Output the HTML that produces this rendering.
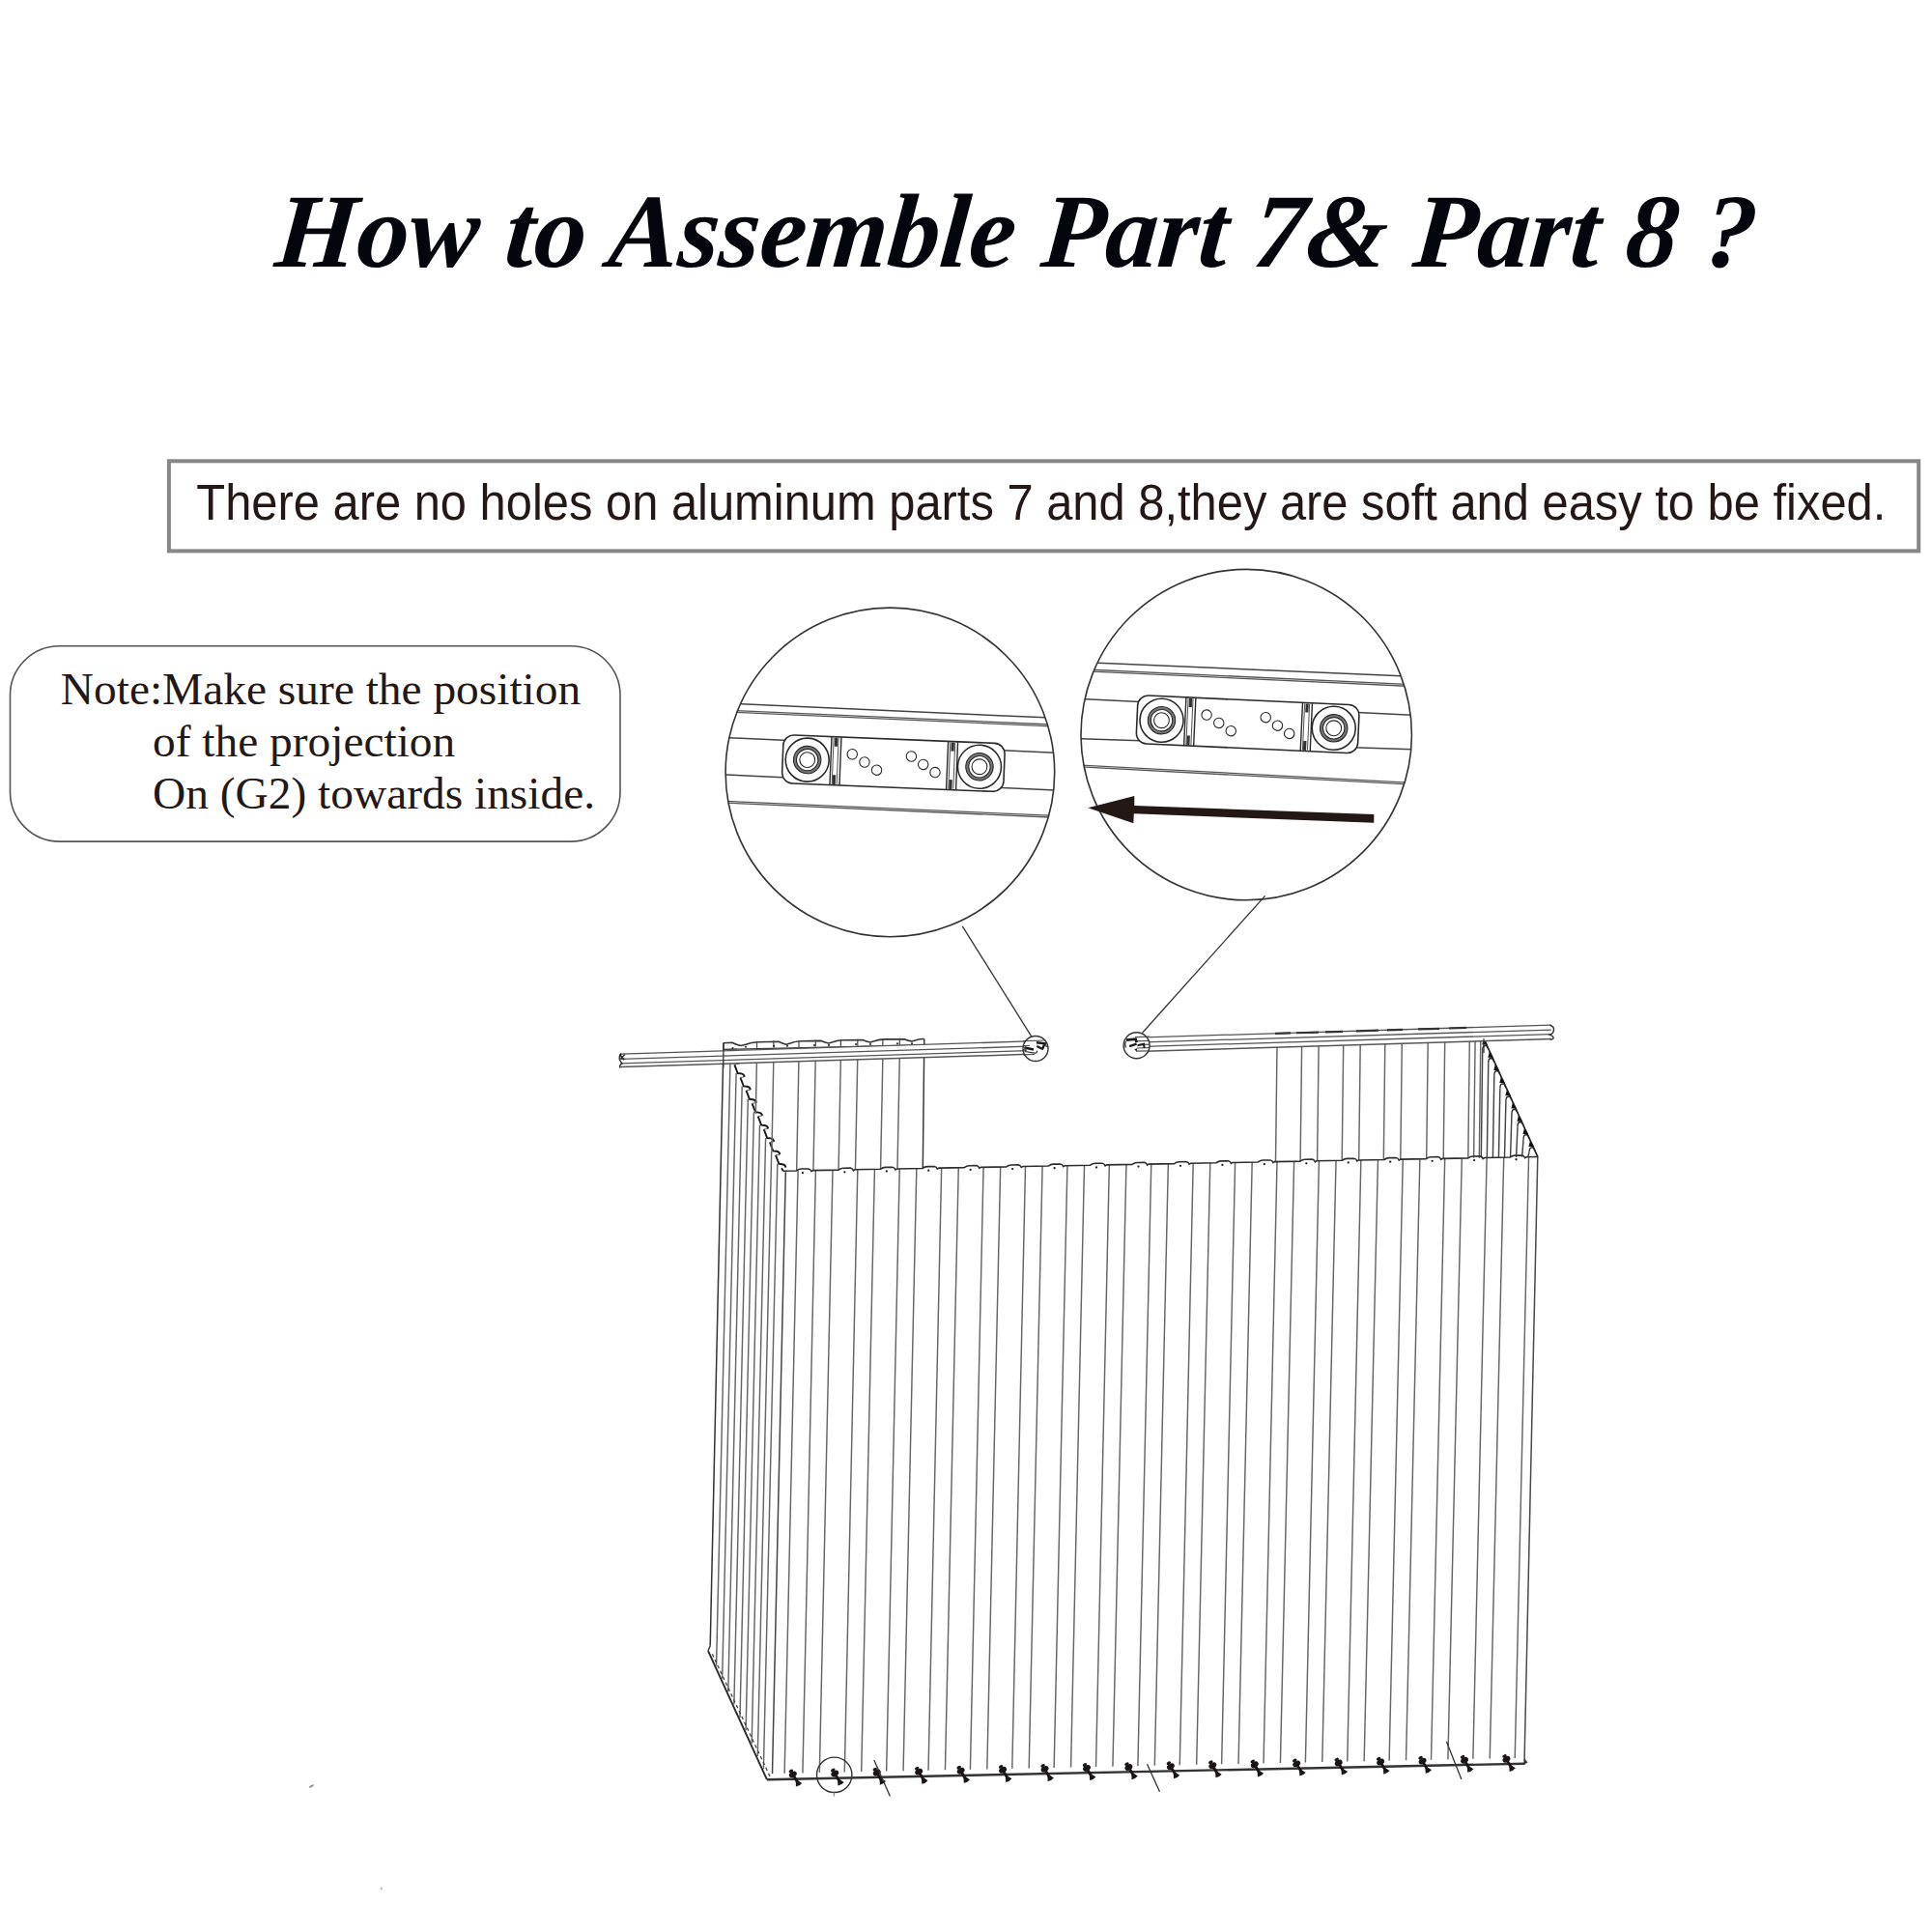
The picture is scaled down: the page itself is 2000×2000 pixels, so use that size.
<!DOCTYPE html>
<html><head><meta charset="utf-8">
<style>
html,body{margin:0;padding:0;background:#fff;}
body{width:2000px;height:2000px;overflow:hidden;position:relative;}
svg{position:absolute;left:0;top:0;}
</style></head>
<body>
<svg width="2000" height="2000" viewBox="0 0 2000 2000">
<text x="283" y="275.8" transform="translate(0 275.8) skewX(-5) translate(0 -275.8)" font-family="Liberation Serif" font-weight="bold" font-style="italic" font-size="108.7" fill="#05050e" textLength="1533" lengthAdjust="spacingAndGlyphs">How to Assemble Part 7&amp; Part 8 ?</text>
<rect x="174.9" y="477.3" width="1811.3" height="93.1" fill="none" stroke="#878787" stroke-width="4"/>
<text x="203.3" y="538.1" font-family="Liberation Sans" font-size="51" fill="#231815" textLength="1749" lengthAdjust="spacingAndGlyphs">There are no holes on aluminum parts 7 and 8,they are soft and easy to be fixed.</text>
<rect x="10.5" y="668.8" width="631.5" height="202.3" rx="51" ry="51" fill="none" stroke="#555" stroke-width="1.6"/>
<g font-family="Liberation Serif" font-size="47.4" fill="#231815">
<text x="62.8" y="728.6">Note:Make sure the position</text>
<text x="158" y="782.7">of the projection</text>
<text x="158" y="836.5">On (G2) towards inside.</text>
</g>
<defs><clipPath id="cl"><circle cx="921.4" cy="799.4" r="170.3"/></clipPath><clipPath id="cr"><circle cx="1290.2" cy="760.6" r="171.2"/></clipPath></defs>
<g clip-path="url(#cl)" stroke-linecap="butt">
<line x1="740" y1="727.63" x2="1100" y2="743.64" stroke="#444" stroke-width="1.5"/>
<line x1="740" y1="734.55" x2="1100" y2="750.55" stroke="#555" stroke-width="1.3"/>
<line x1="740" y1="736.35" x2="1100" y2="752.35" stroke="#555" stroke-width="1.3"/>
<line x1="740" y1="763.08" x2="1100" y2="779.64" stroke="#444" stroke-width="1.5"/>
<line x1="740" y1="801.44" x2="1100" y2="818.45" stroke="#444" stroke-width="1.5"/>
<line x1="740" y1="828.85" x2="1100" y2="844.82" stroke="#555" stroke-width="1.3"/>
<line x1="740" y1="830.65" x2="1100" y2="846.62" stroke="#555" stroke-width="1.3"/>
<g transform="translate(835.7 786.6) rotate(2.3)" stroke="#2a2a2a" fill="none">
<rect x="-25.5" y="-25" width="229.5" height="50" rx="11" ry="11" fill="#fff" stroke-width="1.6"/>
<line x1="24.3" y1="-25" x2="24.3" y2="25" stroke-width="1.4"/>
<line x1="34.3" y1="-25" x2="34.3" y2="25" stroke-width="1.4"/>
<line x1="26.5" y1="-24" x2="26.5" y2="24" stroke-width="0.8"/>
<line x1="31.5" y1="-24" x2="31.5" y2="24" stroke-width="0.8"/>
<rect x="27.5" y="-24" width="3.2" height="9" fill="#333" stroke="none"/>
<rect x="26.9" y="14.5" width="3.2" height="10" fill="#333" stroke="none"/>
<line x1="145" y1="-25" x2="145" y2="25" stroke-width="1.4"/>
<line x1="155" y1="-25" x2="155" y2="25" stroke-width="1.4"/>
<line x1="147.2" y1="-24" x2="147.2" y2="24" stroke-width="0.8"/>
<line x1="152.2" y1="-24" x2="152.2" y2="24" stroke-width="0.8"/>
<rect x="148.2" y="-24" width="3.2" height="9" fill="#333" stroke="none"/>
<rect x="147.6" y="14.5" width="3.2" height="10" fill="#333" stroke="none"/>
<circle cx="0" cy="0" r="22.5" stroke-width="1.6"/>
<circle cx="0" cy="0" r="12.7" stroke-width="3.2" stroke="#777"/>
<circle cx="0" cy="0" r="14.2" stroke-width="1.1"/>
<circle cx="0" cy="0" r="11.2" stroke-width="1.1"/>
<circle cx="0" cy="0" r="7.9" stroke-width="1.1"/>
<circle cx="178.4" cy="0" r="22.5" stroke-width="1.6"/>
<circle cx="178.4" cy="0" r="12.7" stroke-width="3.2" stroke="#777"/>
<circle cx="178.4" cy="0" r="14.2" stroke-width="1.1"/>
<circle cx="178.4" cy="0" r="11.2" stroke-width="1.1"/>
<circle cx="178.4" cy="0" r="7.9" stroke-width="1.1"/>
<circle cx="46.3" cy="-7.7" r="5.2" stroke-width="1.1"/>
<circle cx="59.3" cy="0" r="5.2" stroke-width="1.1"/>
<circle cx="72.2" cy="7.7" r="5.2" stroke-width="1.1"/>
<circle cx="107.5" cy="-7.9" r="5.2" stroke-width="1.1"/>
<circle cx="120.1" cy="0" r="5.2" stroke-width="1.1"/>
<circle cx="132.7" cy="7.7" r="5.2" stroke-width="1.1"/>
</g>
</g>
<circle cx="921.4" cy="799.4" r="170.3" fill="none" stroke="#333" stroke-width="1.6"/>
<g clip-path="url(#cr)" stroke-linecap="butt">
<line x1="1110" y1="685.07" x2="1470" y2="700.7" stroke="#444" stroke-width="1.5"/>
<line x1="1110" y1="692.34" x2="1470" y2="709.05" stroke="#555" stroke-width="1.3"/>
<line x1="1110" y1="694.14" x2="1470" y2="710.85" stroke="#555" stroke-width="1.3"/>
<line x1="1110" y1="723.08" x2="1470" y2="740.72" stroke="#444" stroke-width="1.5"/>
<line x1="1110" y1="764.48" x2="1470" y2="775.97" stroke="#444" stroke-width="1.5"/>
<line x1="1110" y1="791.62" x2="1470" y2="810.7" stroke="#555" stroke-width="1.3"/>
<line x1="1110" y1="793.42" x2="1470" y2="812.5" stroke="#555" stroke-width="1.3"/>
<g transform="translate(1202.5 745.7) rotate(2.6)" stroke="#2a2a2a" fill="none">
<rect x="-25.5" y="-25" width="229.5" height="50" rx="11" ry="11" fill="#fff" stroke-width="1.6"/>
<line x1="24.3" y1="-25" x2="24.3" y2="25" stroke-width="1.4"/>
<line x1="34.3" y1="-25" x2="34.3" y2="25" stroke-width="1.4"/>
<line x1="26.5" y1="-24" x2="26.5" y2="24" stroke-width="0.8"/>
<line x1="31.5" y1="-24" x2="31.5" y2="24" stroke-width="0.8"/>
<rect x="27.5" y="-24" width="3.2" height="9" fill="#333" stroke="none"/>
<rect x="26.9" y="14.5" width="3.2" height="10" fill="#333" stroke="none"/>
<line x1="145" y1="-25" x2="145" y2="25" stroke-width="1.4"/>
<line x1="155" y1="-25" x2="155" y2="25" stroke-width="1.4"/>
<line x1="147.2" y1="-24" x2="147.2" y2="24" stroke-width="0.8"/>
<line x1="152.2" y1="-24" x2="152.2" y2="24" stroke-width="0.8"/>
<rect x="148.2" y="-24" width="3.2" height="9" fill="#333" stroke="none"/>
<rect x="147.6" y="14.5" width="3.2" height="10" fill="#333" stroke="none"/>
<circle cx="0" cy="0" r="22.5" stroke-width="1.6"/>
<circle cx="0" cy="0" r="12.7" stroke-width="3.2" stroke="#777"/>
<circle cx="0" cy="0" r="14.2" stroke-width="1.1"/>
<circle cx="0" cy="0" r="11.2" stroke-width="1.1"/>
<circle cx="0" cy="0" r="7.9" stroke-width="1.1"/>
<circle cx="178.4" cy="0" r="22.5" stroke-width="1.6"/>
<circle cx="178.4" cy="0" r="12.7" stroke-width="3.2" stroke="#777"/>
<circle cx="178.4" cy="0" r="14.2" stroke-width="1.1"/>
<circle cx="178.4" cy="0" r="11.2" stroke-width="1.1"/>
<circle cx="178.4" cy="0" r="7.9" stroke-width="1.1"/>
<circle cx="46.3" cy="-7.7" r="5.2" stroke-width="1.1"/>
<circle cx="59.3" cy="0" r="5.2" stroke-width="1.1"/>
<circle cx="72.2" cy="7.7" r="5.2" stroke-width="1.1"/>
<circle cx="107.5" cy="-7.9" r="5.2" stroke-width="1.1"/>
<circle cx="120.1" cy="0" r="5.2" stroke-width="1.1"/>
<circle cx="132.7" cy="7.7" r="5.2" stroke-width="1.1"/>
</g>
</g>
<circle cx="1290.2" cy="760.6" r="171.2" fill="none" stroke="#333" stroke-width="1.6"/>
<path d="M1126.3 836.2 L1174.3 824.1 L1174.3 834 L1422.3 843.1 L1422.3 851.7 L1173.8 842.3 L1173.3 852.2 Z" fill="#231815" stroke="none"/>
<line x1="996.3" y1="958.8" x2="1067.7" y2="1072.8" stroke="#333" stroke-width="1.3"/>
<line x1="1309.6" y1="927.4" x2="1182.7" y2="1069" stroke="#333" stroke-width="1.3"/>
<g fill="none" stroke-linecap="butt">
<line x1="844.4" y1="1211.57" x2="830.93" y2="1835.42" stroke="#666" stroke-width="1.45"/>
<line x1="887.82" y1="1210.75" x2="874.3" y2="1834.51" stroke="#666" stroke-width="1.45"/>
<line x1="931.24" y1="1209.93" x2="917.67" y2="1833.6" stroke="#666" stroke-width="1.45"/>
<line x1="974.66" y1="1209.12" x2="961.04" y2="1832.68" stroke="#666" stroke-width="1.45"/>
<line x1="1018.08" y1="1208.3" x2="1004.41" y2="1831.77" stroke="#666" stroke-width="1.45"/>
<line x1="1061.5" y1="1207.48" x2="1047.78" y2="1830.86" stroke="#666" stroke-width="1.45"/>
<line x1="1104.92" y1="1206.66" x2="1091.15" y2="1829.94" stroke="#666" stroke-width="1.45"/>
<line x1="1148.34" y1="1205.85" x2="1134.52" y2="1829.03" stroke="#666" stroke-width="1.45"/>
<line x1="1191.76" y1="1205.03" x2="1177.89" y2="1828.12" stroke="#666" stroke-width="1.45"/>
<line x1="1235.18" y1="1204.21" x2="1221.26" y2="1827.2" stroke="#666" stroke-width="1.45"/>
<line x1="1278.6" y1="1203.4" x2="1264.63" y2="1826.29" stroke="#666" stroke-width="1.45"/>
<line x1="1322.02" y1="1202.58" x2="1308.01" y2="1825.38" stroke="#666" stroke-width="1.45"/>
<line x1="1365.44" y1="1201.76" x2="1351.38" y2="1824.46" stroke="#666" stroke-width="1.45"/>
<line x1="1408.86" y1="1200.94" x2="1394.75" y2="1823.55" stroke="#666" stroke-width="1.45"/>
<line x1="1452.28" y1="1200.13" x2="1438.12" y2="1822.64" stroke="#666" stroke-width="1.45"/>
<line x1="1495.7" y1="1199.31" x2="1481.49" y2="1821.72" stroke="#666" stroke-width="1.45"/>
<line x1="1539.12" y1="1198.49" x2="1524.86" y2="1820.81" stroke="#666" stroke-width="1.45"/>
<line x1="1582.54" y1="1197.67" x2="1568.23" y2="1819.9" stroke="#666" stroke-width="1.45"/>
<line x1="862" y1="1211.24" x2="848.33" y2="1835.06" stroke="#666" stroke-width="1.45"/>
<line x1="905.42" y1="1210.42" x2="891.7" y2="1834.14" stroke="#666" stroke-width="1.45"/>
<line x1="948.84" y1="1209.6" x2="935.07" y2="1833.23" stroke="#666" stroke-width="1.45"/>
<line x1="992.26" y1="1208.78" x2="978.44" y2="1832.32" stroke="#666" stroke-width="1.45"/>
<line x1="1035.68" y1="1207.97" x2="1021.81" y2="1831.4" stroke="#666" stroke-width="1.45"/>
<line x1="1079.1" y1="1207.15" x2="1065.18" y2="1830.49" stroke="#666" stroke-width="1.45"/>
<line x1="1122.52" y1="1206.33" x2="1108.55" y2="1829.58" stroke="#666" stroke-width="1.45"/>
<line x1="1165.94" y1="1205.52" x2="1151.92" y2="1828.66" stroke="#666" stroke-width="1.45"/>
<line x1="1209.36" y1="1204.7" x2="1195.3" y2="1827.75" stroke="#666" stroke-width="1.45"/>
<line x1="1252.78" y1="1203.88" x2="1238.67" y2="1826.84" stroke="#666" stroke-width="1.45"/>
<line x1="1296.2" y1="1203.06" x2="1282.04" y2="1825.92" stroke="#666" stroke-width="1.45"/>
<line x1="1339.62" y1="1202.25" x2="1325.41" y2="1825.01" stroke="#666" stroke-width="1.45"/>
<line x1="1383.04" y1="1201.43" x2="1368.78" y2="1824.1" stroke="#666" stroke-width="1.45"/>
<line x1="1426.46" y1="1200.61" x2="1412.15" y2="1823.18" stroke="#666" stroke-width="1.45"/>
<line x1="1469.88" y1="1199.79" x2="1455.52" y2="1822.27" stroke="#666" stroke-width="1.45"/>
<line x1="1513.3" y1="1198.98" x2="1498.89" y2="1821.36" stroke="#666" stroke-width="1.45"/>
<line x1="1556.72" y1="1198.16" x2="1542.26" y2="1820.44" stroke="#666" stroke-width="1.45"/>
<line x1="826.1" y1="1211.91" x2="812.13" y2="1835.82" stroke="#666" stroke-width="1.45"/>
<line x1="813.3" y1="1213.2" x2="799.5" y2="1836" stroke="#444" stroke-width="1.5"/>
<line x1="1591.8" y1="1197.5" x2="1578" y2="1825.7" stroke="#4a4a4a" stroke-width="1.5"/>
<line x1="756" y1="1097.6" x2="741.58" y2="1724.45" stroke="#666" stroke-width="1.45"/>
<line x1="762.1" y1="1111" x2="747.68" y2="1737.81" stroke="#666" stroke-width="1.45"/>
<line x1="768.2" y1="1124.4" x2="753.78" y2="1751.18" stroke="#666" stroke-width="1.45"/>
<line x1="774.3" y1="1137.8" x2="759.88" y2="1764.54" stroke="#666" stroke-width="1.45"/>
<line x1="780.4" y1="1151.2" x2="765.99" y2="1777.9" stroke="#666" stroke-width="1.45"/>
<line x1="786.5" y1="1164.6" x2="772.09" y2="1791.27" stroke="#666" stroke-width="1.45"/>
<line x1="792.6" y1="1178" x2="778.19" y2="1804.63" stroke="#666" stroke-width="1.45"/>
<line x1="798.7" y1="1191.4" x2="784.29" y2="1817.99" stroke="#666" stroke-width="1.45"/>
<line x1="804.8" y1="1204.8" x2="790.39" y2="1831.36" stroke="#666" stroke-width="1.45"/>
<line x1="749" y1="1079.7" x2="735.2" y2="1703.8" stroke="#333" stroke-width="1.5"/>
<line x1="735.2" y1="1703.8" x2="733" y2="1708.8" stroke="#333" stroke-width="1.5"/>
<line x1="733" y1="1708.8" x2="793.9" y2="1842.2" stroke="#2a2a2a" stroke-width="1.9"/>
<line x1="737.3" y1="1712.2" x2="797.2" y2="1839.3" stroke="#444" stroke-width="1.3" stroke-dasharray="3.5 3"/>
<path d="M754.2 1088.7 L757.6 1097.6 L761.1 1098 Q764.2 1098.3 764.6 1101.4 M760.3 1102.1 L763.7 1111 L767.2 1111.4 Q770.3 1111.7 770.7 1114.8 M766.4 1115.5 L769.8 1124.4 L773.3 1124.8 Q776.4 1125.1 776.8 1128.2 M772.5 1128.9 L775.9 1137.8 L779.4 1138.2 Q782.5 1138.5 782.9 1141.6 M778.6 1142.3 L782 1151.2 L785.5 1151.6 Q788.6 1151.9 789 1155 M784.7 1155.7 L788.1 1164.6 L791.6 1165 Q794.7 1165.3 795.1 1168.4 M790.8 1169.1 L794.2 1178 L797.7 1178.4 Q800.8 1178.7 801.2 1181.8 M796.9 1182.5 L800.3 1191.4 L803.8 1191.8 Q806.9 1192.1 807.3 1195.2 M803 1195.9 L806.4 1204.8 L809.9 1205.2 Q813 1205.5 813.4 1208.6" stroke="#1a1a1a" stroke-width="1.9" fill="none"/>
<path d="M764.6 1101.4 L760.3 1102.1 M770.7 1114.8 L766.4 1115.5 M776.8 1128.2 L772.5 1128.9 M782.9 1141.6 L778.6 1142.3 M789 1155 L784.7 1155.7 M795.1 1168.4 L790.8 1169.1 M801.2 1181.8 L796.9 1182.5 M807.3 1195.2 L803 1195.9" stroke="#555" stroke-width="0.9" fill="none"/>
<line x1="809.1" y1="1209.3" x2="810.8" y2="1212.2" stroke="#1a1a1a" stroke-width="1.8"/>
<path d="M748.7 1079.8 L758 1079.3 Q762 1081.5 767 1082.5 L772 1081.2 Q778 1079 784 1078.8 L806 1078.3 Q810 1080.3 814 1081.2 L818 1080 Q823 1077.8 830 1077.7 L850 1077.4 Q854 1079.2 858 1080 L862 1078.8 Q867 1076.8 873 1076.7 L893 1076.5 Q897 1078.2 901 1079 L905 1077.8 Q910 1076 916 1075.9 L936 1075.7 Q940 1077.3 944 1078 L948 1076.8 Q952 1075.5 956.8 1075.5" stroke="#333" stroke-width="1.6" fill="none"/>
<line x1="748.7" y1="1086.3" x2="956.8" y2="1082" stroke="#333" stroke-width="1.3"/>
<line x1="956.8" y1="1075.5" x2="955.3" y2="1209.48" stroke="#3a3a3a" stroke-width="1.5"/>
<line x1="783.5" y1="1077.79" x2="783.5" y2="1084.79" stroke="#444" stroke-width="1.2"/>
<line x1="783.5" y1="1094" x2="782.32" y2="1153.06" stroke="#666" stroke-width="1.45"/>
<line x1="800.9" y1="1077.44" x2="800.9" y2="1084.44" stroke="#444" stroke-width="1.2"/>
<line x1="800.9" y1="1094" x2="798.95" y2="1191.29" stroke="#666" stroke-width="1.45"/>
<line x1="827" y1="1076.92" x2="827" y2="1083.92" stroke="#444" stroke-width="1.2"/>
<line x1="827" y1="1094" x2="824.64" y2="1211.9" stroke="#666" stroke-width="1.45"/>
<line x1="844.3" y1="1076.57" x2="844.3" y2="1083.57" stroke="#444" stroke-width="1.2"/>
<line x1="844.3" y1="1094" x2="841.95" y2="1211.57" stroke="#666" stroke-width="1.45"/>
<line x1="870.4" y1="1076.05" x2="870.4" y2="1083.05" stroke="#444" stroke-width="1.2"/>
<line x1="870.4" y1="1094" x2="868.06" y2="1211.08" stroke="#666" stroke-width="1.45"/>
<line x1="887.8" y1="1075.7" x2="887.8" y2="1082.7" stroke="#444" stroke-width="1.2"/>
<line x1="887.8" y1="1094" x2="885.46" y2="1210.75" stroke="#666" stroke-width="1.45"/>
<line x1="913.9" y1="1075.18" x2="913.9" y2="1082.18" stroke="#444" stroke-width="1.2"/>
<line x1="913.9" y1="1094" x2="911.57" y2="1210.26" stroke="#666" stroke-width="1.45"/>
<line x1="931.3" y1="1074.83" x2="931.3" y2="1081.83" stroke="#444" stroke-width="1.2"/>
<line x1="931.3" y1="1094" x2="928.98" y2="1209.93" stroke="#666" stroke-width="1.45"/>
<circle cx="758.5" cy="1084.99" r="1.0" fill="#222" stroke="none"/>
<circle cx="772" cy="1083.72" r="1.0" fill="#222" stroke="none"/>
<circle cx="801" cy="1082.74" r="1.0" fill="#222" stroke="none"/>
<circle cx="815" cy="1082.76" r="1.0" fill="#222" stroke="none"/>
<circle cx="843" cy="1082" r="1.0" fill="#222" stroke="none"/>
<circle cx="858" cy="1082" r="1.0" fill="#222" stroke="none"/>
<circle cx="886" cy="1081.04" r="1.0" fill="#222" stroke="none"/>
<circle cx="901" cy="1081.04" r="1.0" fill="#222" stroke="none"/>
<circle cx="929" cy="1080.18" r="1.0" fill="#222" stroke="none"/>
<circle cx="944" cy="1080.18" r="1.0" fill="#222" stroke="none"/>
<line x1="1322" y1="1083.68" x2="1320.5" y2="1202.61" stroke="#666" stroke-width="1.45"/>
<line x1="1347.6" y1="1082.9" x2="1346.1" y2="1202.12" stroke="#666" stroke-width="1.45"/>
<line x1="1365.1" y1="1082.37" x2="1363.6" y2="1201.8" stroke="#666" stroke-width="1.45"/>
<line x1="1390.7" y1="1081.59" x2="1389.2" y2="1201.31" stroke="#666" stroke-width="1.45"/>
<line x1="1408.2" y1="1081.06" x2="1406.7" y2="1200.98" stroke="#666" stroke-width="1.45"/>
<line x1="1433.8" y1="1080.29" x2="1432.3" y2="1200.5" stroke="#666" stroke-width="1.45"/>
<line x1="1451.3" y1="1079.76" x2="1449.8" y2="1200.17" stroke="#666" stroke-width="1.45"/>
<line x1="1478.2" y1="1078.94" x2="1476.7" y2="1199.67" stroke="#666" stroke-width="1.45"/>
<line x1="1495.7" y1="1078.41" x2="1494.2" y2="1199.34" stroke="#666" stroke-width="1.45"/>
<line x1="1521.3" y1="1077.64" x2="1519.8" y2="1198.86" stroke="#666" stroke-width="1.45"/>
<line x1="1527.1" y1="1077.46" x2="1525.6" y2="1198.75" stroke="#666" stroke-width="1.45"/>
<line x1="1532.8" y1="1077.29" x2="1531.3" y2="1198.64" stroke="#666" stroke-width="1.45"/>
<line x1="1536" y1="1075.2" x2="1592" y2="1197.9" stroke="#222" stroke-width="1.6"/>
<path d="M1535.91 1075 L1539.88 1081.5 L1534.28 1081.5 Z" fill="#111" stroke="none"/>
<path d="M1534.7 1087 Q1534.7 1082.3 1537.5 1082.3 Q1540.1 1082.5 1540.5 1086" stroke="#222" stroke-width="1.3" fill="none"/>
<line x1="1534.7" y1="1087" x2="1533.3" y2="1198.6" stroke="#444" stroke-width="1.45"/>
<path d="M1541.93 1088.2 L1545.9 1094.7 L1540.3 1094.7 Z" fill="#111" stroke="none"/>
<path d="M1540.75 1100.2 Q1540.75 1095.5 1543.55 1095.5 Q1546.15 1095.7 1546.55 1099.2" stroke="#222" stroke-width="1.3" fill="none"/>
<line x1="1540.75" y1="1100.2" x2="1539.35" y2="1198.49" stroke="#444" stroke-width="1.45"/>
<path d="M1547.96 1101.4 L1551.92 1107.9 L1546.32 1107.9 Z" fill="#111" stroke="none"/>
<path d="M1546.8 1113.4 Q1546.8 1108.7 1549.6 1108.7 Q1552.2 1108.9 1552.6 1112.4" stroke="#222" stroke-width="1.3" fill="none"/>
<line x1="1546.8" y1="1113.4" x2="1545.4" y2="1198.37" stroke="#444" stroke-width="1.45"/>
<path d="M1553.98 1114.6 L1557.95 1121.1 L1552.35 1121.1 Z" fill="#111" stroke="none"/>
<path d="M1552.85 1126.6 Q1552.85 1121.9 1555.65 1121.9 Q1558.25 1122.1 1558.65 1125.6" stroke="#222" stroke-width="1.3" fill="none"/>
<line x1="1552.85" y1="1126.6" x2="1551.45" y2="1198.26" stroke="#444" stroke-width="1.45"/>
<path d="M1560.01 1127.8 L1563.97 1134.3 L1558.37 1134.3 Z" fill="#111" stroke="none"/>
<path d="M1558.9 1139.8 Q1558.9 1135.1 1561.7 1135.1 Q1564.3 1135.3 1564.7 1138.8" stroke="#222" stroke-width="1.3" fill="none"/>
<line x1="1558.9" y1="1139.8" x2="1557.5" y2="1198.15" stroke="#444" stroke-width="1.45"/>
<path d="M1566.03 1141 L1570 1147.5 L1564.4 1147.5 Z" fill="#111" stroke="none"/>
<path d="M1564.95 1153 Q1564.95 1148.3 1567.75 1148.3 Q1570.35 1148.5 1570.75 1152" stroke="#222" stroke-width="1.3" fill="none"/>
<line x1="1564.95" y1="1153" x2="1563.55" y2="1198.03" stroke="#444" stroke-width="1.45"/>
<path d="M1572.06 1154.2 L1576.02 1160.7 L1570.42 1160.7 Z" fill="#111" stroke="none"/>
<path d="M1571 1166.2 Q1571 1161.5 1573.8 1161.5 Q1576.4 1161.7 1576.8 1165.2" stroke="#222" stroke-width="1.3" fill="none"/>
<line x1="1571" y1="1166.2" x2="1569.6" y2="1197.92" stroke="#444" stroke-width="1.45"/>
<path d="M1578.08 1167.4 L1582.05 1173.9 L1576.45 1173.9 Z" fill="#111" stroke="none"/>
<path d="M1577.05 1179.4 Q1577.05 1174.7 1579.85 1174.7 Q1582.45 1174.9 1582.85 1178.4" stroke="#222" stroke-width="1.3" fill="none"/>
<line x1="1577.05" y1="1179.4" x2="1575.65" y2="1197.8" stroke="#444" stroke-width="1.45"/>
<path d="M1584.1 1180.6 L1588.07 1187.1 L1582.47 1187.1 Z" fill="#111" stroke="none"/>
<path d="M1583.1 1192.6 Q1583.1 1187.9 1585.9 1187.9 Q1588.5 1188.1 1588.9 1191.6" stroke="#222" stroke-width="1.3" fill="none"/>
<line x1="1583.1" y1="1192.6" x2="1581.7" y2="1197.69" stroke="#444" stroke-width="1.45"/>
<circle cx="830.9" cy="1214.14" r="1.15" fill="#222" stroke="none"/>
<circle cx="874.35" cy="1213.32" r="1.15" fill="#222" stroke="none"/>
<circle cx="917.8" cy="1212.51" r="1.15" fill="#222" stroke="none"/>
<circle cx="961.25" cy="1211.69" r="1.15" fill="#222" stroke="none"/>
<circle cx="1004.7" cy="1210.87" r="1.15" fill="#222" stroke="none"/>
<circle cx="1048.15" cy="1210.05" r="1.15" fill="#222" stroke="none"/>
<circle cx="1091.6" cy="1209.24" r="1.15" fill="#222" stroke="none"/>
<circle cx="1135.05" cy="1208.42" r="1.15" fill="#222" stroke="none"/>
<circle cx="1178.5" cy="1207.6" r="1.15" fill="#222" stroke="none"/>
<circle cx="1221.95" cy="1206.78" r="1.15" fill="#222" stroke="none"/>
<circle cx="1265.4" cy="1205.96" r="1.15" fill="#222" stroke="none"/>
<circle cx="1308.85" cy="1205.15" r="1.15" fill="#222" stroke="none"/>
<circle cx="1352.3" cy="1204.33" r="1.15" fill="#222" stroke="none"/>
<circle cx="1395.75" cy="1203.51" r="1.15" fill="#222" stroke="none"/>
<circle cx="1439.2" cy="1202.69" r="1.15" fill="#222" stroke="none"/>
<circle cx="1482.65" cy="1201.87" r="1.15" fill="#222" stroke="none"/>
<circle cx="1526.1" cy="1201.06" r="1.15" fill="#222" stroke="none"/>
<circle cx="1569.55" cy="1200.24" r="1.15" fill="#222" stroke="none"/>
<path d="M810.8 1212.2 L824.5 1211.94 Q827 1210.14 829.5 1210.04 L837 1209.94 Q839 1210.14 840 1212.54 L841.5 1211.62 L867.95 1211.12 Q870.45 1209.32 872.95 1209.22 L880.45 1209.12 Q882.45 1209.32 883.45 1211.72 L884.95 1210.8 L911.4 1210.31 Q913.9 1208.51 916.4 1208.41 L923.9 1208.31 Q925.9 1208.51 926.9 1210.91 L928.4 1209.99 L954.85 1209.49 Q957.35 1207.69 959.85 1207.59 L967.35 1207.49 Q969.35 1207.69 970.35 1210.09 L971.85 1209.17 L998.3 1208.67 Q1000.8 1206.87 1003.3 1206.77 L1010.8 1206.67 Q1012.8 1206.87 1013.8 1209.27 L1015.3 1208.35 L1041.75 1207.85 Q1044.25 1206.05 1046.75 1205.95 L1054.25 1205.85 Q1056.25 1206.05 1057.25 1208.45 L1058.75 1207.53 L1085.2 1207.04 Q1087.7 1205.24 1090.2 1205.14 L1097.7 1205.04 Q1099.7 1205.24 1100.7 1207.64 L1102.2 1206.72 L1128.65 1206.22 Q1131.15 1204.42 1133.65 1204.32 L1141.15 1204.22 Q1143.15 1204.42 1144.15 1206.82 L1145.65 1205.9 L1172.1 1205.4 Q1174.6 1203.6 1177.1 1203.5 L1184.6 1203.4 Q1186.6 1203.6 1187.6 1206 L1189.1 1205.08 L1215.55 1204.58 Q1218.05 1202.78 1220.55 1202.68 L1228.05 1202.58 Q1230.05 1202.78 1231.05 1205.18 L1232.55 1204.26 L1259 1203.76 Q1261.5 1201.96 1264 1201.86 L1271.5 1201.76 Q1273.5 1201.96 1274.5 1204.36 L1276 1203.44 L1302.45 1202.95 Q1304.95 1201.15 1307.45 1201.05 L1314.95 1200.95 Q1316.95 1201.15 1317.95 1203.55 L1319.45 1202.63 L1345.9 1202.13 Q1348.4 1200.33 1350.9 1200.23 L1358.4 1200.13 Q1360.4 1200.33 1361.4 1202.73 L1362.9 1201.81 L1389.35 1201.31 Q1391.85 1199.51 1394.35 1199.41 L1401.85 1199.31 Q1403.85 1199.51 1404.85 1201.91 L1406.35 1200.99 L1432.8 1200.49 Q1435.3 1198.69 1437.8 1198.59 L1445.3 1198.49 Q1447.3 1198.69 1448.3 1201.09 L1449.8 1200.17 L1476.25 1199.67 Q1478.75 1197.87 1481.25 1197.77 L1488.75 1197.67 Q1490.75 1197.87 1491.75 1200.27 L1493.25 1199.35 L1519.7 1198.86 Q1522.2 1197.06 1524.7 1196.96 L1532.2 1196.86 Q1534.2 1197.06 1535.2 1199.46 L1536.7 1198.54 L1563.15 1198.04 Q1565.65 1196.24 1568.15 1196.14 L1575.65 1196.04 Q1577.65 1196.24 1578.65 1198.64 L1580.15 1197.72 L1591.8 1197.5" stroke="#2e2e2e" stroke-width="1.6" fill="none"/>
<line x1="793.9" y1="1842.2" x2="1578.5" y2="1825.7" stroke="#333" stroke-width="2.4"/>
<path d="M1578 1819.7 L1581.5 1824.7 L1578 1826.2 Z" fill="#333" stroke="none"/>
<g transform="translate(821 1837.13) rotate(-30)" fill="#1a1414" stroke="none"><ellipse cx="0" cy="-4.3" rx="2.4" ry="1.6"/><ellipse cx="0" cy="-0.3" rx="4.2" ry="2.9"/><rect x="-1.4" y="0" width="2.8" height="9.5"/><path d="M-3.6 12.2 Q0 13.6 3.6 12.2 L1.2 7.5 L-1.2 7.5 Z"/></g>
<g transform="translate(864.45 1836.21) rotate(-30)" fill="#1a1414" stroke="none"><ellipse cx="0" cy="-4.3" rx="2.4" ry="1.6"/><ellipse cx="0" cy="-0.3" rx="4.2" ry="2.9"/><rect x="-1.4" y="0" width="2.8" height="9.5"/><path d="M-3.6 12.2 Q0 13.6 3.6 12.2 L1.2 7.5 L-1.2 7.5 Z"/></g>
<g transform="translate(907.9 1835.3) rotate(-30)" fill="#1a1414" stroke="none"><ellipse cx="0" cy="-4.3" rx="2.4" ry="1.6"/><ellipse cx="0" cy="-0.3" rx="4.2" ry="2.9"/><rect x="-1.4" y="0" width="2.8" height="9.5"/><path d="M-3.6 12.2 Q0 13.6 3.6 12.2 L1.2 7.5 L-1.2 7.5 Z"/></g>
<g transform="translate(951.35 1834.38) rotate(-30)" fill="#1a1414" stroke="none"><ellipse cx="0" cy="-4.3" rx="2.4" ry="1.6"/><ellipse cx="0" cy="-0.3" rx="4.2" ry="2.9"/><rect x="-1.4" y="0" width="2.8" height="9.5"/><path d="M-3.6 12.2 Q0 13.6 3.6 12.2 L1.2 7.5 L-1.2 7.5 Z"/></g>
<g transform="translate(994.8 1833.47) rotate(-30)" fill="#1a1414" stroke="none"><ellipse cx="0" cy="-4.3" rx="2.4" ry="1.6"/><ellipse cx="0" cy="-0.3" rx="4.2" ry="2.9"/><rect x="-1.4" y="0" width="2.8" height="9.5"/><path d="M-3.6 12.2 Q0 13.6 3.6 12.2 L1.2 7.5 L-1.2 7.5 Z"/></g>
<g transform="translate(1038.25 1832.55) rotate(-30)" fill="#1a1414" stroke="none"><ellipse cx="0" cy="-4.3" rx="2.4" ry="1.6"/><ellipse cx="0" cy="-0.3" rx="4.2" ry="2.9"/><rect x="-1.4" y="0" width="2.8" height="9.5"/><path d="M-3.6 12.2 Q0 13.6 3.6 12.2 L1.2 7.5 L-1.2 7.5 Z"/></g>
<g transform="translate(1081.7 1831.64) rotate(-30)" fill="#1a1414" stroke="none"><ellipse cx="0" cy="-4.3" rx="2.4" ry="1.6"/><ellipse cx="0" cy="-0.3" rx="4.2" ry="2.9"/><rect x="-1.4" y="0" width="2.8" height="9.5"/><path d="M-3.6 12.2 Q0 13.6 3.6 12.2 L1.2 7.5 L-1.2 7.5 Z"/></g>
<g transform="translate(1125.15 1830.72) rotate(-30)" fill="#1a1414" stroke="none"><ellipse cx="0" cy="-4.3" rx="2.4" ry="1.6"/><ellipse cx="0" cy="-0.3" rx="4.2" ry="2.9"/><rect x="-1.4" y="0" width="2.8" height="9.5"/><path d="M-3.6 12.2 Q0 13.6 3.6 12.2 L1.2 7.5 L-1.2 7.5 Z"/></g>
<g transform="translate(1168.6 1829.81) rotate(-30)" fill="#1a1414" stroke="none"><ellipse cx="0" cy="-4.3" rx="2.4" ry="1.6"/><ellipse cx="0" cy="-0.3" rx="4.2" ry="2.9"/><rect x="-1.4" y="0" width="2.8" height="9.5"/><path d="M-3.6 12.2 Q0 13.6 3.6 12.2 L1.2 7.5 L-1.2 7.5 Z"/></g>
<g transform="translate(1212.05 1828.9) rotate(-30)" fill="#1a1414" stroke="none"><ellipse cx="0" cy="-4.3" rx="2.4" ry="1.6"/><ellipse cx="0" cy="-0.3" rx="4.2" ry="2.9"/><rect x="-1.4" y="0" width="2.8" height="9.5"/><path d="M-3.6 12.2 Q0 13.6 3.6 12.2 L1.2 7.5 L-1.2 7.5 Z"/></g>
<g transform="translate(1255.5 1827.98) rotate(-30)" fill="#1a1414" stroke="none"><ellipse cx="0" cy="-4.3" rx="2.4" ry="1.6"/><ellipse cx="0" cy="-0.3" rx="4.2" ry="2.9"/><rect x="-1.4" y="0" width="2.8" height="9.5"/><path d="M-3.6 12.2 Q0 13.6 3.6 12.2 L1.2 7.5 L-1.2 7.5 Z"/></g>
<g transform="translate(1298.95 1827.07) rotate(-30)" fill="#1a1414" stroke="none"><ellipse cx="0" cy="-4.3" rx="2.4" ry="1.6"/><ellipse cx="0" cy="-0.3" rx="4.2" ry="2.9"/><rect x="-1.4" y="0" width="2.8" height="9.5"/><path d="M-3.6 12.2 Q0 13.6 3.6 12.2 L1.2 7.5 L-1.2 7.5 Z"/></g>
<g transform="translate(1342.4 1826.15) rotate(-30)" fill="#1a1414" stroke="none"><ellipse cx="0" cy="-4.3" rx="2.4" ry="1.6"/><ellipse cx="0" cy="-0.3" rx="4.2" ry="2.9"/><rect x="-1.4" y="0" width="2.8" height="9.5"/><path d="M-3.6 12.2 Q0 13.6 3.6 12.2 L1.2 7.5 L-1.2 7.5 Z"/></g>
<g transform="translate(1385.85 1825.24) rotate(-30)" fill="#1a1414" stroke="none"><ellipse cx="0" cy="-4.3" rx="2.4" ry="1.6"/><ellipse cx="0" cy="-0.3" rx="4.2" ry="2.9"/><rect x="-1.4" y="0" width="2.8" height="9.5"/><path d="M-3.6 12.2 Q0 13.6 3.6 12.2 L1.2 7.5 L-1.2 7.5 Z"/></g>
<g transform="translate(1429.3 1824.32) rotate(-30)" fill="#1a1414" stroke="none"><ellipse cx="0" cy="-4.3" rx="2.4" ry="1.6"/><ellipse cx="0" cy="-0.3" rx="4.2" ry="2.9"/><rect x="-1.4" y="0" width="2.8" height="9.5"/><path d="M-3.6 12.2 Q0 13.6 3.6 12.2 L1.2 7.5 L-1.2 7.5 Z"/></g>
<g transform="translate(1472.75 1823.41) rotate(-30)" fill="#1a1414" stroke="none"><ellipse cx="0" cy="-4.3" rx="2.4" ry="1.6"/><ellipse cx="0" cy="-0.3" rx="4.2" ry="2.9"/><rect x="-1.4" y="0" width="2.8" height="9.5"/><path d="M-3.6 12.2 Q0 13.6 3.6 12.2 L1.2 7.5 L-1.2 7.5 Z"/></g>
<g transform="translate(1516.2 1822.49) rotate(-30)" fill="#1a1414" stroke="none"><ellipse cx="0" cy="-4.3" rx="2.4" ry="1.6"/><ellipse cx="0" cy="-0.3" rx="4.2" ry="2.9"/><rect x="-1.4" y="0" width="2.8" height="9.5"/><path d="M-3.6 12.2 Q0 13.6 3.6 12.2 L1.2 7.5 L-1.2 7.5 Z"/></g>
<g transform="translate(1559.65 1821.58) rotate(-30)" fill="#1a1414" stroke="none"><ellipse cx="0" cy="-4.3" rx="2.4" ry="1.6"/><ellipse cx="0" cy="-0.3" rx="4.2" ry="2.9"/><rect x="-1.4" y="0" width="2.8" height="9.5"/><path d="M-3.6 12.2 Q0 13.6 3.6 12.2 L1.2 7.5 L-1.2 7.5 Z"/></g>
<line x1="904.8" y1="1821.9" x2="921.4" y2="1859.6" stroke="#333" stroke-width="1.3"/>
<line x1="1187.5" y1="1826.2" x2="1200.5" y2="1854.7" stroke="#333" stroke-width="1.3"/>
<line x1="1497.4" y1="1802.7" x2="1512.9" y2="1841.9" stroke="#333" stroke-width="1.3"/>
<circle cx="863.7" cy="1837.3" r="18.2" fill="none" stroke="#333" stroke-width="1.4"/>
<line x1="863.3" y1="1855.6" x2="863.3" y2="1859.5" stroke="#777" stroke-width="1"/>
</g>
<line x1="320.5" y1="1850.2" x2="324.5" y2="1847.8" stroke="#888" stroke-width="1.6"/>
<ellipse cx="394.8" cy="1955" rx="1" ry="1.6" fill="#bbb" transform="rotate(25 394.8 1955)"/>
<path d="M641.2 1091.2 L1072 1077.72 L1072 1091.12 L641.2 1104.6 Z" fill="#fff" stroke="none"/>
<line x1="642.2" y1="1091.2" x2="1072" y2="1077.72" stroke="#555" stroke-width="1.3"/>
<line x1="642.2" y1="1096.4" x2="1072" y2="1082.92" stroke="#555" stroke-width="1.4"/>
<line x1="642.2" y1="1100.9" x2="1072" y2="1087.42" stroke="#555" stroke-width="1.3"/>
<line x1="642.2" y1="1104.6" x2="1072" y2="1091.12" stroke="#555" stroke-width="1.5"/>
<path d="M643 1090.5 Q640.5 1094 641.5 1097 L644 1101 Q640.5 1103 642 1105.5" stroke="#333" stroke-width="1.4" fill="none"/>
<path d="M641.5 1091.5 L646 1097" stroke="#222" stroke-width="1.8" fill="none"/>
<path d="M647 1091.5 L642.5 1096" stroke="#333" stroke-width="1.4" fill="none"/>
<line x1="749" y1="1079.7" x2="748.7" y2="1105" stroke="#333" stroke-width="1.3"/>
<path d="M1176 1074.1 L1605.8 1061.08 L1605.8 1075.58 L1176 1088.6 Z" fill="#fff" stroke="none"/>
<line x1="1177" y1="1074.1" x2="1605.8" y2="1061.08" stroke="#555" stroke-width="1.3"/>
<line x1="1177" y1="1079.1" x2="1605.8" y2="1066.08" stroke="#555" stroke-width="1.3"/>
<line x1="1177" y1="1083.6" x2="1605.8" y2="1070.58" stroke="#555" stroke-width="1.3"/>
<line x1="1177" y1="1088.6" x2="1605.8" y2="1075.58" stroke="#555" stroke-width="1.5"/>
<path d="M1604.5 1061.3 Q1609 1062.5 1608.5 1066.5 Q1608 1070 1604.5 1071.3 Q1608.5 1072.5 1608 1075 Q1607 1076.3 1604.5 1076.1" stroke="#333" stroke-width="1.4" fill="none"/>
<line x1="1320" y1="1069.94" x2="1336" y2="1069.45" stroke="#333" stroke-width="2.2"/>
<line x1="1342" y1="1069.27" x2="1365" y2="1068.57" stroke="#333" stroke-width="2.2"/>
<line x1="1372" y1="1068.36" x2="1390" y2="1067.82" stroke="#333" stroke-width="2.2"/>
<line x1="1404" y1="1067.39" x2="1427" y2="1066.69" stroke="#333" stroke-width="2.2"/>
<line x1="1436" y1="1066.42" x2="1452" y2="1065.94" stroke="#333" stroke-width="2.2"/>
<line x1="1468" y1="1065.45" x2="1490" y2="1064.79" stroke="#333" stroke-width="2.2"/>
<line x1="1500" y1="1064.48" x2="1518" y2="1063.94" stroke="#333" stroke-width="2.2"/>
<line x1="1536" y1="1075.2" x2="1536" y2="1090" stroke="#333" stroke-width="1.3"/>
<circle cx="1072" cy="1085.5" r="12.6" fill="#fff" stroke="none"/>
<circle cx="1176.6" cy="1082.3" r="13.1" fill="#fff" stroke="none"/>
<line x1="1059" y1="1077.7" x2="1082" y2="1077" stroke="#555" stroke-width="1.2"/>
<line x1="1059" y1="1082.7" x2="1066" y2="1082.5" stroke="#555" stroke-width="1.2"/>
<line x1="1059" y1="1087.2" x2="1063" y2="1087.1" stroke="#555" stroke-width="1.2"/>
<line x1="1059" y1="1091.8" x2="1071" y2="1091.4" stroke="#555" stroke-width="1.3"/>
<path d="M1060.5 1084.6 L1070 1086.6" stroke="#1a1a1a" stroke-width="2.6" fill="none"/>
<path d="M1061.2 1083.5 L1061.2 1088.6 L1071.5 1090.2 Q1073.8 1090 1073.6 1087.6" stroke="#333" stroke-width="1.2" fill="none"/>
<path d="M1073 1079.3 L1081.6 1080.3 L1079.2 1085.6" stroke="#1a1a1a" stroke-width="2.4" fill="none"/>
<path d="M1073.3 1083.1 L1080 1086.3" stroke="#1a1a1a" stroke-width="2.2" fill="none"/>
<path d="M1082 1080 L1083.5 1084" stroke="#333" stroke-width="1.2" fill="none"/>
<circle cx="1072" cy="1085.5" r="13" fill="none" stroke="#333" stroke-width="1.4"/>
<line x1="1175" y1="1073.6" x2="1190" y2="1073.2" stroke="#555" stroke-width="1.3"/>
<line x1="1175" y1="1077.8" x2="1190" y2="1077.4" stroke="#555" stroke-width="1.2"/>
<line x1="1178" y1="1081.6" x2="1190" y2="1081.2" stroke="#555" stroke-width="1.2"/>
<line x1="1177" y1="1085" x2="1190" y2="1084.6" stroke="#555" stroke-width="1.2"/>
<line x1="1176" y1="1088.2" x2="1190" y2="1087.8" stroke="#555" stroke-width="1.3"/>
<path d="M1165.8 1076.6 L1175.6 1075.7 L1176.6 1079.2" stroke="#1a1a1a" stroke-width="2.6" fill="none"/>
<path d="M1169.2 1083.2 L1176.6 1080.6" stroke="#1a1a1a" stroke-width="2.3" fill="none"/>
<path d="M1177.5 1082.3 L1184.1 1080.7 L1184.5 1085" stroke="#1a1a1a" stroke-width="2" fill="none"/>
<path d="M1165.3 1078 Q1164 1081.5 1165.3 1084.8" stroke="#333" stroke-width="1.3" fill="none"/>
<path d="M1174.2 1086.2 L1177.2 1085.2 L1176.6 1088.6 Z" fill="#1a1a1a" stroke="none"/>
<circle cx="1176.6" cy="1082.3" r="13.5" fill="none" stroke="#333" stroke-width="1.4"/>
</svg>
</body></html>
